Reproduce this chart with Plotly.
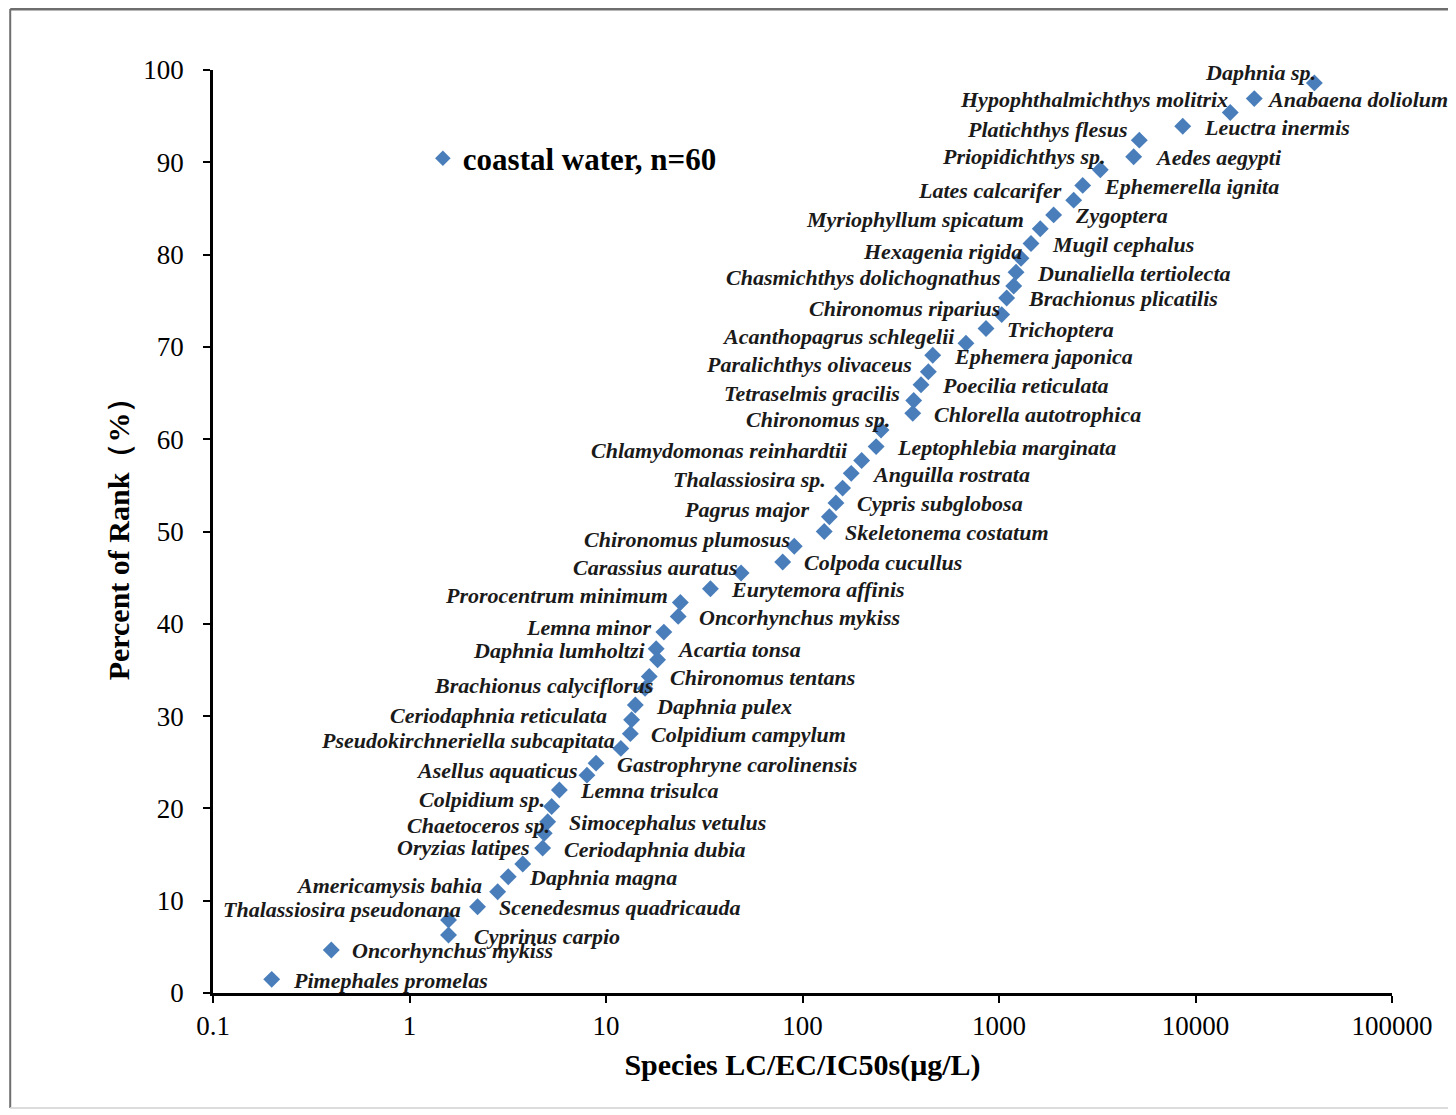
import math
import plotly.graph_objects as go

# ---------------- data ----------------
species = [
    "Pimephales promelas", "Oncorhynchus mykiss", "Cyprinus carpio", "Thalassiosira pseudonana",
    "Scenedesmus quadricauda", "Americamysis bahia", "Daphnia magna", "Oryzias latipes",
    "Ceriodaphnia dubia", "Chaetoceros sp.", "Simocephalus vetulus", "Colpidium sp.",
    "Lemna trisulca", "Asellus aquaticus", "Gastrophryne carolinensis", "Pseudokirchneriella subcapitata",
    "Colpidium campylum", "Ceriodaphnia reticulata", "Daphnia pulex", "Brachionus calyciflorus",
    "Chironomus tentans", "Daphnia lumholtzi", "Acartia tonsa", "Lemna minor",
    "Oncorhynchus mykiss", "Prorocentrum minimum", "Eurytemora affinis", "Carassius auratus",
    "Colpoda cucullus", "Chironomus plumosus", "Skeletonema costatum", "Pagrus major",
    "Cypris subglobosa", "Thalassiosira sp.", "Anguilla rostrata", "Chlamydomonas reinhardtii",
    "Leptophlebia marginata", "Chironomus sp.", "Chlorella autotrophica", "Tetraselmis gracilis",
    "Poecilia reticulata", "Paralichthys olivaceus", "Ephemera japonica", "Acanthopagrus schlegelii",
    "Trichoptera", "Chironomus riparius", "Brachionus plicatilis", "Chasmichthys dolichognathus",
    "Dunaliella tertiolecta", "Hexagenia rigida", "Mugil cephalus", "Myriophyllum spicatum",
    "Zygoptera", "Lates calcarifer", "Ephemerella ignita", "Priopidichthys sp.",
    "Aedes aegypti", "Platichthys flesus", "Leuctra inermis", "Hypophthalmichthys molitrix",
    "Anabaena doliolum", "Daphnia sp.",
]

lc50_ugL = [
    0.199, 0.40, 1.58, 1.58, 2.22, 2.81, 3.18, 3.77, 4.76, 4.85,
    5.05, 5.29, 5.79, 8.0, 8.9, 11.9, 13.3, 13.5, 14.1, 15.8,
    16.6, 18.3, 18.0, 19.7, 23.3, 23.9, 34.0, 48.7, 79.3, 90.8,
    129, 137, 148, 160, 177, 200, 237, 251, 364, 368,
    401, 437, 460, 679, 859, 1032, 1094, 1188, 1221, 1294,
    1455, 1622, 1897, 2399, 2667, 3278, 4845, 5176, 8610, 15030,
    19910, 40270,
]

percent_rank = [
    1.48, 4.66, 6.28, 7.91, 9.35, 10.97, 12.6, 13.98, 15.7, 17.3,
    18.56, 20.2, 22.0, 23.6, 24.9, 26.5, 28.1, 29.6, 31.2, 33.0,
    34.3, 36.1, 37.3, 39.1, 40.8, 42.3, 43.8, 45.5, 46.7, 48.4,
    50.0, 51.6, 53.1, 54.7, 56.3, 57.7, 59.2, 61.0, 62.8, 64.2,
    65.9, 67.3, 69.1, 70.4, 72.0, 73.5, 75.3, 76.6, 78.1, 79.6,
    81.2, 82.8, 84.3, 85.9, 87.5, 89.2, 90.6, 92.4, 93.9, 95.4,
    96.9, 98.6,
]

x_tick_vals = [0.1, 1, 10, 100, 1000, 10000, 100000]
x_tick_text = ["0.1", "1", "10", "100", "1000", "10000", "100000"]
y_tick_vals = [0, 10, 20, 30, 40, 50, 60, 70, 80, 90, 100]

series_name = "coastal water, n=60"

# ---------------- label placement (style) ----------------
# "R": label right of the marker, "L": label left of the marker
label_side = []
for i in range(len(species)):
    if i < 3:
        label_side.append("R")
    else:
        label_side.append("L" if i % 2 == 1 else "R")

left_dx = {3: 13, 5: -15, 7: 8, 9: 7, 11: -6, 13: -8, 15: -5, 17: -24, 19: 9, 21: -12,
           23: -11, 25: -11, 27: -3, 29: -3, 31: -18, 33: -16, 35: -13, 37: 10, 39: -13,
           41: -15, 43: -10, 45: -1, 47: -13, 49: 2, 51: -15, 53: -11, 55: 7, 57: -10,
           59: -1, 61: 3}
left_dy = {3: 10, 5: 6, 7: 16, 9: 8, 11: 7, 13: 5, 15: 8, 17: 4, 19: 3, 21: 9,
           23: 5, 25: 7, 27: 6, 29: 7, 31: 7, 33: 9, 35: 10, 37: 10, 39: 7,
           41: 7, 43: 7, 45: 6, 47: 8, 49: 7, 51: 9, 53: 10, 55: 13, 57: 11,
           59: 13, 61: 10}
right_dx = {2: 23, 60: 11}

SERIF = "Times New Roman, Liberation Serif, serif"
BLUE = "#4a7ebb"

fig = go.Figure()
fig.add_trace(go.Scatter(
    x=lc50_ugL, y=percent_rank, mode="markers", name=f"<b>{series_name}</b>",
    marker=dict(symbol="diamond", size=13, color=BLUE, line=dict(width=0)),
))

annotations = []
for i, (nm, xv, yv) in enumerate(zip(species, lc50_ugL, percent_rank)):
    if label_side[i] == "R":
        xa, xs, ys = "left", right_dx.get(i, 19), -1
    else:
        xa, xs, ys = "right", left_dx.get(i, -8) + 1, left_dy.get(i, 8)
    annotations.append(dict(
        x=math.log10(xv), y=yv, xref="x", yref="y",
        text=f"<b><i>{nm}</i></b>", showarrow=False,
        xanchor=xa, yanchor="middle", xshift=xs, yshift=ys,
        font=dict(family=SERIF, size=22, color="#1a1a1a"),
    ))

shapes = [
    dict(type="line", xref="paper", yref="paper", x0=-0.172, x1=1.1, y0=1.066, y1=1.066,
         line=dict(color="#6e6e6e", width=3)),
    dict(type="line", xref="paper", yref="paper", x0=-0.172, x1=-0.172, y0=1.066, y1=-0.1246,
         line=dict(color="#6e6e6e", width=2)),
    dict(type="line", xref="paper", yref="paper", x0=-0.172, x1=1.1, y0=-0.1246, y1=-0.1246,
         line=dict(color="#dcdcdc", width=2)),
]

fig.update_layout(
    width=1456, height=1115,
    margin=dict(l=205, r=72, t=62, b=130),
    paper_bgcolor="white", plot_bgcolor="white",
    font=dict(family=SERIF, color="black"),
    showlegend=True,
    legend=dict(
        x=0.178, y=0.904, xanchor="left", yanchor="middle",
        bgcolor="rgba(0,0,0,0)", borderwidth=0,
        font=dict(family=SERIF, size=31, color="black"),
        itemsizing="constant",
    ),
    annotations=annotations,
    shapes=shapes,
)

fig.update_xaxes(
    type="log", range=[-1, 5],
    tickvals=x_tick_vals, ticktext=x_tick_text,
    tickfont=dict(family=SERIF, size=27, color="black"),
    ticks="outside", ticklen=7, tickwidth=2, tickcolor="black",
    showline=True, linecolor="black", linewidth=2.5,
    showgrid=False, zeroline=False, mirror=False,
    title=dict(text="<b>Species LC/EC/IC50s(μg/L)</b>",
               font=dict(family=SERIF, size=30, color="black"), standoff=14),
)
fig.update_yaxes(
    range=[0, 100], tickvals=y_tick_vals,
    tickfont=dict(family=SERIF, size=27, color="black"),
    ticks="outside", ticklen=7, tickwidth=2, tickcolor="black",
    ticklabelstandoff=14,
    showline=True, linecolor="black", linewidth=2.5,
    showgrid=False, zeroline=False, mirror=False,
    title=dict(text="<b>Percent of Rank（%）</b>",
               font=dict(family=SERIF, size=30, color="black"), standoff=5),
)

fig.write_html("out.html")
